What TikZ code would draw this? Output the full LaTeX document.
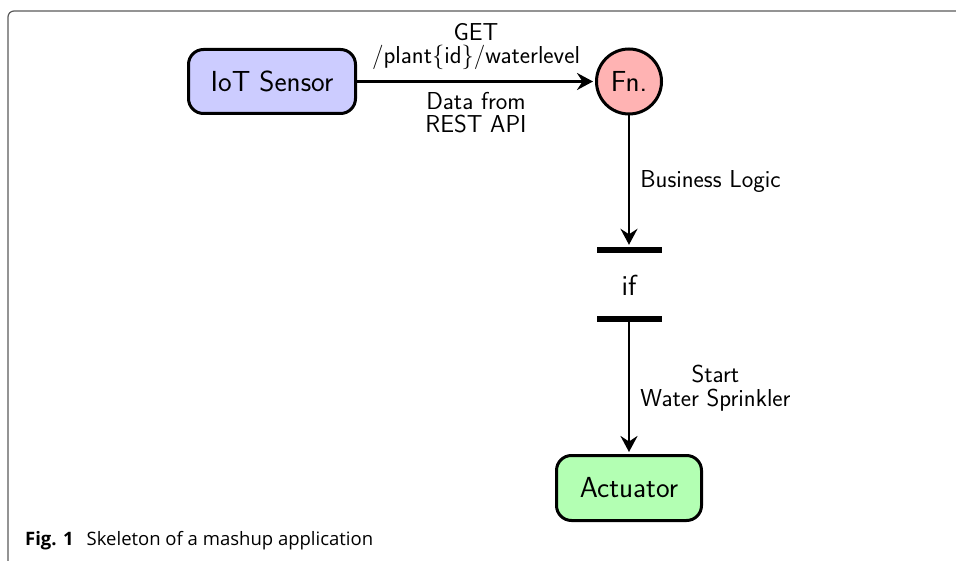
\documentclass[tikz,border=0pt]{standalone}
\usepackage{fontspec}
\newfontfamily\capfont{Open Sans}
\usetikzlibrary{arrows.meta}

\definecolor{sensorfill}{RGB}{204,204,255}
\definecolor{fnfill}{RGB}{255,179,179}
\definecolor{actfill}{RGB}{179,255,179}
\definecolor{framegray}{RGB}{90,90,90}

\tikzset{
  nodefont/.style={font=\sffamily\fontsize{29}{32}\selectfont},
  block/.style={draw=black, line width=3pt, rounded corners=15pt,
    nodefont, inner sep=0pt},
  fnnode/.style={draw=black, line width=3pt, circle, fill=fnfill,
    minimum size=65pt, inner sep=0pt, nodefont},
  bar/.style={fill=black, minimum width=65pt, minimum height=6pt, inner sep=0pt},
  flow/.style={line width=2.8pt, -{Stealth[length=16pt,width=17pt,inset=5.5pt]}, shorten >=2pt},
  edgetext/.style={font=\sffamily\fontsize{24.5}{23.5}\selectfont, align=center, inner sep=0pt},
}

\begin{document}
\begin{tikzpicture}[x=1pt,y=-1pt]
  \useasboundingbox (0,0) rectangle (956,561);

  % figure frame (top and left edges)
  \draw[framegray, line width=1.2pt, rounded corners=6pt]
    (8,561) -- (8,11) -- (960,11);

  % nodes
  \node[block, fill=sensorfill, minimum width=167pt, minimum height=64pt]
    (sensor) at (272,81.5) {IoT Sensor};
  \node[fnnode] (fn) at (629,81.5) {Fn.};
  \node[bar] (bar1) at (629,250) {};
  \node[nodefont, inner sep=0pt] (cond) at (629,285) {if};
  \node[bar] (bar2) at (629,319) {};
  \node[block, fill=actfill, minimum width=145pt, minimum height=65pt]
    (act) at (629,488) {Actuator};

  % connectors
  \draw[flow] (sensor) -- (fn)
    node[midway, edgetext, yshift=35pt] (get) {GET\\/plant\{id\}/waterlevel}
    node[midway, edgetext, yshift=-31pt] (rest) {Data from\\REST API};
  \draw[flow] (fn) -- (bar1.north)
    node[midway, edgetext, anchor=west, xshift=10pt] (logic) {Business Logic};
  \draw[line width=2.8pt] (bar2.center) -- (bar2.south);
  \draw[flow] (bar2) -- (act)
    node[midway, edgetext, anchor=west, xshift=10pt] (start) {Start\\Water Sprinkler};

  % caption
  \node[anchor=base west, inner sep=0pt, font=\capfont\fontsize{18.5}{20}\selectfont]
    (caption) at (25,545) {\textbf{Fig. 1}\hspace{13pt}Skeleton of a mashup application};
\end{tikzpicture}
\end{document}
